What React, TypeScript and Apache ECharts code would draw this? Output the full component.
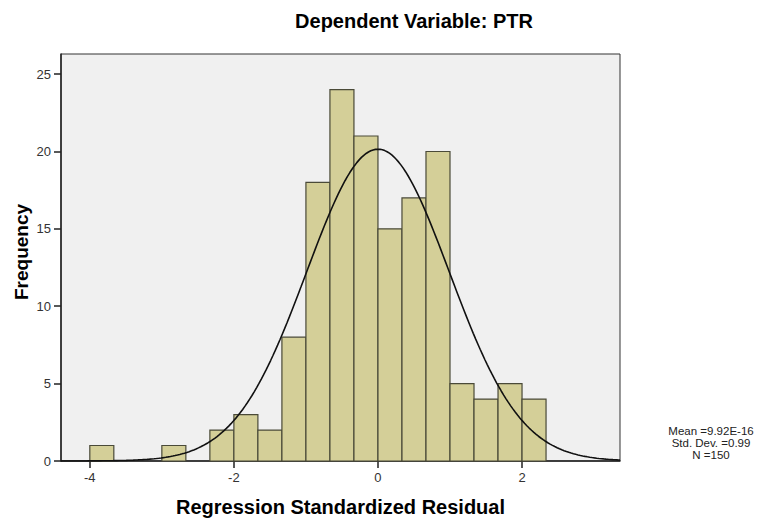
import React, { useEffect, useRef } from "react";
import * as echarts from "echarts";

// Histogram of regression standardized residuals (bins of width 1/3 starting at -4)
const binStarts = [
  -4, -11 / 3, -10 / 3, -3, -8 / 3, -7 / 3, -2, -5 / 3, -4 / 3, -1, -2 / 3, -1 / 3,
  0, 1 / 3, 2 / 3, 1, 4 / 3, 5 / 3, 2,
];
const counts = [1, 0, 0, 1, 0, 2, 3, 2, 8, 18, 24, 21, 15, 17, 20, 5, 4, 5, 4];
const binWidth = 1 / 3;

// Summary statistics shown beside the plot
const meanValue = 9.92e-16;
const stdDev = 0.99;
const nObs = 150;
const statLines = ["Mean =9.92E-16", "Std. Dev. =0.99", "N =150"];

const xTicks = [-4, -2, 0, 2];
const yTicks = [0, 5, 10, 15, 20, 25];
const xMin = -4.4;
const xMax = 3.36;
const yMax = 26.3;

const FONT = "'Liberation Sans', Arial, Helvetica, sans-serif";

// Fitted normal curve scaled to frequency per bin
function normalCurve(): number[][] {
  const pts: number[][] = [];
  const steps = 240;
  for (let i = 0; i <= steps; i++) {
    const x = xMin + ((xMax - xMin) * i) / steps;
    const z = (x - meanValue) / stdDev;
    const y = (nObs * binWidth * Math.exp(-0.5 * z * z)) / (stdDev * Math.sqrt(2 * Math.PI));
    pts.push([x, y]);
  }
  return pts;
}

export default function App() {
  const ref = useRef<HTMLDivElement>(null);

  useEffect(() => {
    if (!ref.current) return;
    const chart = echarts.init(ref.current, undefined, { renderer: "svg" });
    const barData = binStarts.map((s, i) => [s, s + binWidth, counts[i]]);

    chart.setOption({
      animation: false,
      backgroundColor: "#ffffff",
      title: {
        text: "Dependent Variable: PTR",
        left: 409,
        top: 6,
        textAlign: "center",
        textStyle: { fontFamily: FONT, fontSize: 20, fontWeight: "bold", color: "#000" },
      },
      grid: {
        left: 61,
        top: 54,
        right: 161,
        bottom: 61,
        show: true,
        backgroundColor: "#f0f0f0",
        borderColor: "#333",
        borderWidth: 1,
      },
      xAxis: {
        type: "value",
        min: xMin,
        max: xMax,
        name: "Regression Standardized Residual",
        nameLocation: "middle",
        nameGap: 36,
        nameTextStyle: { fontFamily: FONT, fontSize: 20, fontWeight: "bold", color: "#000" },
        splitLine: { show: false },
        axisLine: { show: true, onZero: false, lineStyle: { color: "#222", width: 1.5 } },
        axisTick: { show: true, customValues: xTicks, length: 7, lineStyle: { color: "#222", width: 1.5 } },
        axisLabel: {
          customValues: xTicks,
          margin: 10,
          fontFamily: FONT,
          fontSize: 13,
          color: "#333",
        },
      },
      yAxis: {
        type: "value",
        min: 0,
        max: yMax,
        splitLine: { show: false },
        axisLine: { show: true, onZero: false, lineStyle: { color: "#222", width: 1.5 } },
        axisTick: { show: true, customValues: yTicks, length: 7, lineStyle: { color: "#222", width: 1.5 } },
        axisLabel: {
          customValues: yTicks,
          margin: 10,
          fontFamily: FONT,
          fontSize: 13,
          color: "#333",
        },
      },
      series: [
        {
          type: "custom",
          data: barData,
          encode: { x: [0, 1], y: 2 },
          renderItem: (params: any, api: any) => {
            const h = api.value(2);
            if (!h) return null;
            const p0 = api.coord([api.value(0), 0]);
            const p1 = api.coord([api.value(1), h]);
            return {
              type: "rect",
              shape: { x: p0[0], y: p1[1], width: p1[0] - p0[0], height: p0[1] - p1[1] },
              style: { fill: "#d4cf98", stroke: "#4a4a38", lineWidth: 1.2 },
            };
          },
          z: 2,
        },
        {
          type: "line",
          data: normalCurve(),
          showSymbol: false,
          smooth: false,
          lineStyle: { color: "#111", width: 1.6 },
          z: 3,
        },
      ],
      graphic: [
        {
          type: "text",
          x: 21,
          y: 252,
          rotation: Math.PI / 2,
          style: {
            text: "Frequency",
            fontFamily: FONT,
            fontSize: 19,
            fontWeight: "bold",
            fill: "#000",
            align: "center",
            verticalAlign: "middle",
          },
        },
        ...statLines.map((line, i) => ({
          type: "text",
          x: 711,
          y: 431 + i * 12,
          style: {
            text: line,
            fontFamily: FONT,
            fontSize: 11.5,
            fill: "#222",
            align: "center",
            verticalAlign: "middle",
          },
        })),
      ],
    });

    return () => chart.dispose();
  }, []);

  return (
    <div
      ref={ref}
      style={{ position: "absolute", left: 0, top: 0, width: 781, height: 522 }}
    />
  );
}
